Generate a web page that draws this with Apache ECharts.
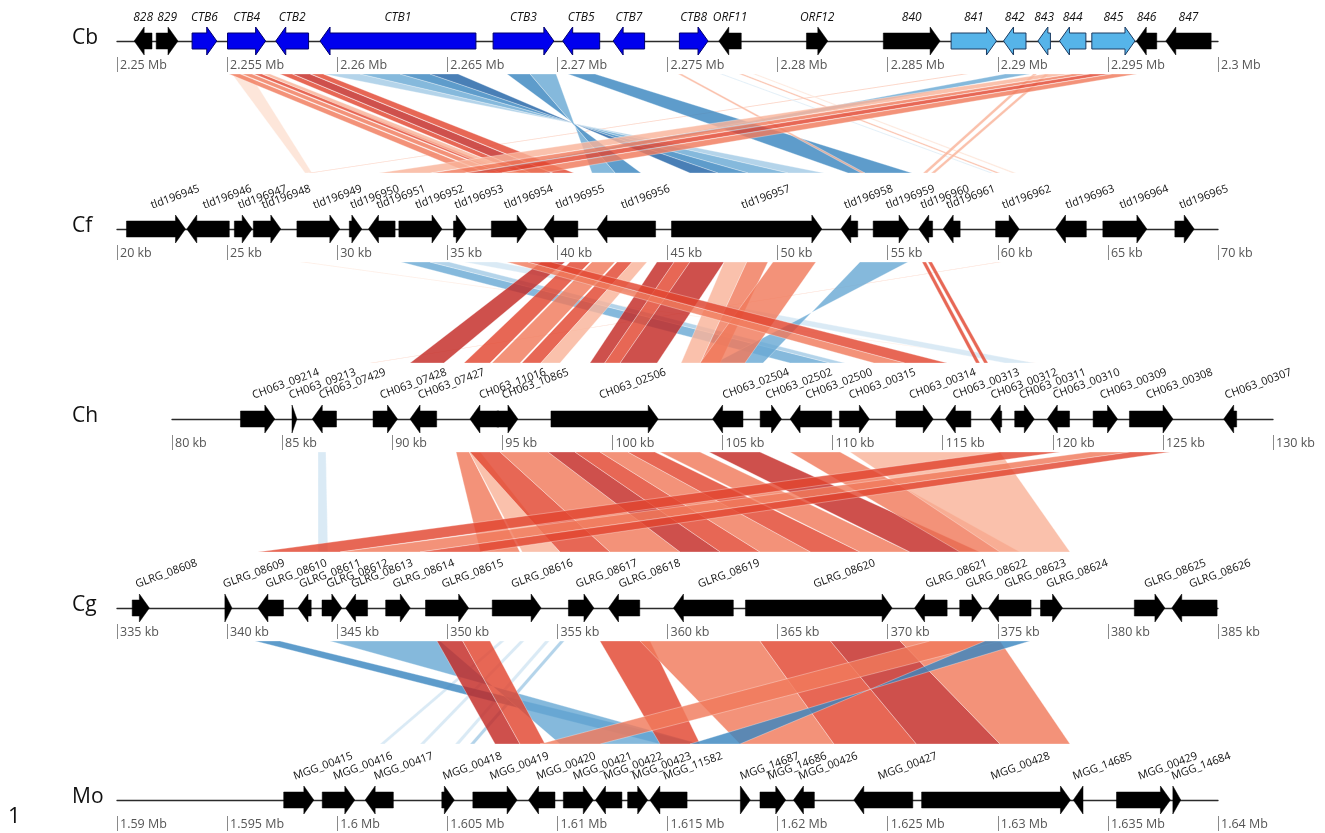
<!DOCTYPE html>
<html><head><meta charset="utf-8">
<script src="https://cdn.jsdelivr.net/npm/echarts@6/dist/echarts.min.js"></script>
<style>html,body{margin:0;padding:0;background:#fff}#c{width:1325px;height:833px}</style>
</head><body><div id="c"></div>
<script>
// ---------------- DATA ----------------
const trackNames = ['Cb', 'Cf', 'Ch', 'Cg', 'Mo'];
const trackMin = [2250, 20, 80, 335, 1590];   // kb
const trackMax = [2300, 70, 130, 385, 1640];  // kb

const cbTicks = ['2.25 Mb','2.255 Mb','2.26 Mb','2.265 Mb','2.27 Mb','2.275 Mb','2.28 Mb','2.285 Mb','2.29 Mb','2.295 Mb','2.3 Mb'];
const cfTicks = ['20 kb','25 kb','30 kb','35 kb','40 kb','45 kb','50 kb','55 kb','60 kb','65 kb','70 kb'];
const chTicks = ['80 kb','85 kb','90 kb','95 kb','100 kb','105 kb','110 kb','115 kb','120 kb','125 kb','130 kb'];
const cgTicks = ['335 kb','340 kb','345 kb','350 kb','355 kb','360 kb','365 kb','370 kb','375 kb','380 kb','385 kb'];
const moTicks = ['1.59 Mb','1.595 Mb','1.6 Mb','1.605 Mb','1.61 Mb','1.615 Mb','1.62 Mb','1.625 Mb','1.63 Mb','1.635 Mb','1.64 Mb'];

// genes: [start kb, end kb, strand, name, colour class]
const cbGenes = [
  [2250.78, 2251.59, -1, '828', 'k'], [2251.78, 2252.77, 1, '829', 'k'],
  [2253.41, 2254.53, 1, 'CTB6', 'b'], [2255.02, 2256.75, 1, 'CTB4', 'b'],
  [2257.21, 2258.70, -1, 'CTB2', 'b'], [2259.22, 2266.30, -1, 'CTB1', 'b'],
  [2267.08, 2269.84, 1, 'CTB3', 'b'], [2270.24, 2271.92, -1, 'CTB5', 'b'],
  [2272.53, 2273.96, -1, 'CTB7', 'b'], [2275.54, 2276.84, 1, 'CTB8', 'b'],
  [2277.33, 2278.35, -1, 'ORF11', 'k'], [2281.31, 2282.28, 1, 'ORF12', 'k'],
  [2284.80, 2287.38, 1, '840', 'k'], [2287.88, 2289.94, 1, '841', 'l'],
  [2290.26, 2291.28, -1, '842', 'l'], [2291.82, 2292.39, -1, '843', 'l'],
  [2292.80, 2294.00, -1, '844', 'l'], [2294.27, 2296.23, 1, '845', 'l'],
  [2296.29, 2297.22, -1, '846', 'k'], [2297.63, 2299.69, -1, '847', 'k']
];
const cfGenes = [
  [20.43, 23.11, 1, 'tld196945'], [23.17, 25.10, -1, 'tld196946'],
  [25.33, 26.14, 1, 'tld196947'], [26.19, 27.44, 1, 'tld196948'],
  [28.17, 30.12, 1, 'tld196949'], [30.55, 31.12, 1, 'tld196950'],
  [31.42, 32.63, -1, 'tld196951'], [32.80, 34.76, 1, 'tld196952'],
  [35.28, 35.86, 1, 'tld196953'], [37.00, 38.63, 1, 'tld196954'],
  [39.38, 40.93, -1, 'tld196955'], [41.80, 44.46, -1, 'tld196956'],
  [45.18, 52.01, 1, 'tld196957'], [52.87, 53.64, -1, 'tld196958'],
  [54.34, 55.97, 1, 'tld196959'], [56.41, 57.04, -1, 'tld196960'],
  [57.52, 58.29, -1, 'tld196961'], [59.90, 60.97, 1, 'tld196962'],
  [62.62, 64.02, -1, 'tld196963'], [64.77, 66.77, 1, 'tld196964'],
  [68.04, 68.92, 1, 'tld196965']
];
const chGenes = [
  [83.11, 84.67, 1, 'CH063_09214'], [85.45, 85.67, 1, 'CH063_09213'],
  [86.37, 87.47, -1, 'CH063_07429'], [89.13, 90.24, 1, 'CH063_07428'],
  [90.81, 92.02, -1, 'CH063_07427'], [93.53, 94.85, -1, 'CH063_11016'],
  [94.75, 95.71, 1, 'CH063_10865'], [97.21, 102.08, 1, 'CH063_02506'],
  [104.55, 105.93, -1, 'CH063_02504'], [106.71, 107.68, 1, 'CH063_02502'],
  [108.07, 109.96, -1, 'CH063_02500'], [110.31, 111.67, 1, 'CH063_00315'],
  [112.88, 114.57, 1, 'CH063_00314'], [115.12, 116.28, -1, 'CH063_00313'],
  [117.16, 117.68, -1, 'CH063_00312'], [118.27, 119.16, 1, 'CH063_00311'],
  [119.75, 120.76, -1, 'CH063_00310'], [121.83, 122.94, 1, 'CH063_00309'],
  [123.48, 125.46, 1, 'CH063_00308'], [127.76, 128.35, -1, 'CH063_00307']
];
const cgGenes = [
  [335.69, 336.47, 1, 'GLRG_08608'], [339.90, 340.22, 1, 'GLRG_08609'],
  [341.40, 342.56, -1, 'GLRG_08610'], [343.22, 343.82, -1, 'GLRG_08611'],
  [344.31, 345.21, 1, 'GLRG_08612'], [345.38, 346.38, -1, 'GLRG_08613'],
  [347.20, 348.32, 1, 'GLRG_08614'], [349.01, 350.97, 1, 'GLRG_08615'],
  [352.04, 354.26, 1, 'GLRG_08616'], [355.50, 356.66, 1, 'GLRG_08617'],
  [357.32, 358.74, -1, 'GLRG_08618'], [360.27, 362.99, -1, 'GLRG_08619'],
  [363.54, 370.20, 1, 'GLRG_08620'], [371.22, 372.70, -1, 'GLRG_08621'],
  [373.27, 374.28, 1, 'GLRG_08622'], [374.58, 376.51, -1, 'GLRG_08623'],
  [376.94, 377.94, 1, 'GLRG_08624'], [381.20, 382.59, 1, 'GLRG_08625'],
  [382.90, 384.96, -1, 'GLRG_08626']
];
const moGenes = [
  [1597.57, 1598.94, 1, 'MGG_00415'], [1599.32, 1600.80, 1, 'MGG_00416'],
  [1601.27, 1602.55, -1, 'MGG_00417'], [1604.75, 1605.32, 1, 'MGG_00418'],
  [1606.16, 1608.17, 1, 'MGG_00419'], [1608.69, 1609.89, -1, 'MGG_00420'],
  [1610.27, 1611.63, 1, 'MGG_00421'], [1611.73, 1612.93, -1, 'MGG_00422'],
  [1613.19, 1614.10, 1, 'MGG_00423'], [1614.20, 1615.89, -1, 'MGG_11582'],
  [1618.31, 1618.76, 1, 'MGG_14687'], [1619.20, 1620.37, 1, 'MGG_14686'],
  [1620.72, 1621.67, -1, 'MGG_00426'], [1623.46, 1626.14, -1, 'MGG_00427'],
  [1626.54, 1633.30, 1, 'MGG_00428'], [1633.43, 1633.87, -1, 'MGG_14685'],
  [1635.39, 1637.84, 1, 'MGG_00429'], [1637.95, 1638.31, 1, 'MGG_14684']
];

// links: [upper start, upper end, lower start, lower end, colour class]
const linksCbCf = [
  [2255.22, 2256.04, 28.54, 28.86, 'r1'], [2288.37, 2288.65, 28.67, 28.86, 'r2'],
  [2255.09, 2255.59, 36.03, 36.76, 'r3'], [2255.68, 2256.13, 36.85, 37.39, 'r3'],
  [2256.22, 2256.58, 37.48, 37.94, 'r4'], [2256.63, 2256.95, 37.62, 38.30, 'r2'],
  [2257.40, 2257.95, 38.26, 38.76, 'r4'], [2257.99, 2258.76, 38.80, 39.75, 'r5'],
  [2258.81, 2259.36, 39.80, 40.75, 'r4'],
  [2259.40, 2261.04, 52.11, 50.47, 'b2'], [2261.04, 2262.85, 50.47, 48.66, 'b3'],
  [2262.85, 2264.21, 48.66, 47.29, 'b4'], [2264.21, 2265.49, 47.29, 46.02, 'b5'],
  [2267.71, 2268.76, 43.80, 42.62, 'b4'], [2268.76, 2269.94, 42.62, 41.57, 'b3'],
  [2270.48, 2271.71, 53.20, 56.10, 'b4'],
  [2275.48, 2275.66, 53.79, 53.97, 'r2'], [2278.25, 2278.43, 59.92, 60.10, 'r2'],
  [2278.88, 2279.02, 60.65, 60.83, 'r1'], [2277.38, 2277.51, 59.65, 59.78, 'b1'],
  [2291.60, 2291.78, 56.60, 56.79, 'r2'], [2292.15, 2292.33, 56.97, 57.15, 'r2'],
  [2290.33, 2291.46, 36.03, 36.48, 'b3'],
  [2292.14, 2293.28, 31.90, 34.21, 'r2'], [2293.37, 2294.10, 34.31, 35.76, 'r3'],
  [2294.19, 2295.10, 35.85, 37.39, 'r4'], [2295.19, 2296.32, 37.48, 39.35, 'r3']
];
const linksCfCh = [
  [28.31, 28.58, 119.05, 119.24, 'r1'], [60.01, 60.15, 88.99, 89.13, 'r2'],
  [35.76, 37.26, 117.83, 119.15, 'b1'],
  [32.90, 34.21, 108.07, 109.88, 'b3'], [34.21, 35.08, 109.88, 110.56, 'b2'],
  [53.74, 55.92, 106.84, 104.66, 'b3'],
  [39.26, 40.35, 90.81, 92.35, 'r5'], [40.57, 41.48, 93.26, 94.44, 'r4'],
  [41.57, 42.62, 94.53, 95.80, 'r3'], [42.71, 43.40, 95.89, 96.75, 'r4'],
  [43.40, 44.07, 96.75, 97.62, 'r2'],
  [44.52, 45.30, 98.98, 99.65, 'r5'], [45.30, 46.02, 99.65, 100.35, 'r4'],
  [46.02, 47.57, 100.35, 102.03, 'r5'],
  [47.57, 48.60, 103.12, 104.00, 'r2'], [48.60, 49.56, 104.00, 104.89, 'r3'],
  [49.79, 51.74, 103.98, 106.02, 'r3'],
  [37.71, 38.66, 111.88, 113.29, 'r3'], [38.66, 39.71, 113.29, 115.20, 'r4'],
  [56.56, 56.74, 116.51, 116.69, 'r4'], [56.83, 57.01, 116.88, 117.06, 'r4']
];
const linksChCg = [
  [86.63, 86.99, 344.13, 344.58, 'b1'],
  [92.90, 93.50, 351.50, 353.30, 'r3'], [93.50, 94.00, 353.40, 355.10, 'r2'],
  [93.53, 94.90, 355.12, 357.39, 'r4'], [94.90, 97.08, 357.39, 360.57, 'r3'],
  [97.08, 98.30, 360.57, 362.40, 'r5'], [98.30, 99.44, 362.40, 364.20, 'r4'],
  [99.44, 100.70, 364.20, 366.50, 'r3'], [100.70, 101.93, 366.50, 368.74, 'r4'],
  [102.16, 103.98, 368.74, 371.01, 'r3'], [104.39, 106.70, 371.01, 374.19, 'r5'],
  [108.07, 110.34, 373.28, 376.01, 'r3'], [110.79, 117.60, 375.10, 378.28, 'r2'],
  [117.60, 120.33, 341.40, 345.13, 'r4'], [121.69, 123.51, 345.13, 348.76, 'r3'],
  [123.51, 125.32, 348.76, 351.49, 'r4']
];
const linksCgMo = [
  [352.39, 352.60, 1601.94, 1602.15, 'b1'], [353.30, 353.50, 1603.76, 1603.96, 'b1'],
  [354.44, 354.64, 1605.35, 1605.55, 'b1'], [355.12, 355.32, 1606.03, 1606.23, 'b2'],
  [341.27, 342.40, 1614.66, 1616.48, 'b4'],
  [344.67, 349.67, 1616.48, 1610.12, 'b3'],
  [349.53, 350.70, 1607.17, 1608.30, 'r5'], [350.70, 351.94, 1608.30, 1609.44, 'r4'],
  [356.93, 359.21, 1614.66, 1616.48, 'r4'],
  [358.75, 364.20, 1618.29, 1622.56, 'r3'],
  [364.20, 367.40, 1622.56, 1626.30, 'r4'], [367.40, 370.56, 1626.30, 1630.10, 'r5'],
  [370.56, 375.10, 1630.10, 1633.28, 'r3'],
  [371.92, 375.10, 1609.21, 1611.93, 'r3'],
  [374.42, 376.46, 1618.29, 1616.02, 'b4']
];

// ---------------- LAYOUT / STYLE ----------------
const genesByTrack = [cbGenes, cfGenes, chGenes, cgGenes, moGenes];
const ticksByTrack = [cbTicks, cfTicks, chTicks, cgTicks, moTicks];
const linksByBand = [linksCbCf, linksCfCh, linksChCg, linksCgMo];
const trackY = [41, 229, 419, 608, 800];
const trackLeft = [117, 117, 172, 117, 117];
const trackW = 1101;
const linkColors = {
  r1: '#fde0d2', r2: '#f9b39a', r3: '#f07a5c', r4: '#e2462f', r5: '#c32a24',
  b1: '#d2e5f3', b2: '#a4cbe5', b3: '#6aaad4', b4: '#3b86c0', b5: '#2163a6'
};
const geneFill = { k: '#000000', b: '#0000ee', l: '#56b4e9' };
const geneStroke = { k: '#000000', b: '#000070', l: '#1c3c63' };
const FONT = '"Open Sans", "Noto Sans", sans-serif';

const chart = echarts.init(document.getElementById('c'), null, { renderer: 'canvas' });

const grids = [], xAxes = [], yAxes = [], series = [];
trackY.forEach((y, k) => {
  grids.push({ left: trackLeft[k], width: trackW, top: y - 30, height: 30 });
  xAxes.push({
    gridIndex: k, type: 'value', min: trackMin[k], max: trackMax[k], position: 'bottom',
    axisLine: { show: true, onZero: false, lineStyle: { color: '#2b2b2b', width: 1.3 } },
    axisTick: { show: false }, axisLabel: { show: false }, splitLine: { show: false }
  });
  xAxes.push({
    gridIndex: k, type: 'value', min: trackMin[k], max: trackMax[k], interval: 5,
    position: 'bottom', offset: 16,
    axisLine: { show: false, onZero: false },
    axisTick: { show: true, length: 15, lineStyle: { color: '#8a8a8a', width: 1 } },
    axisLabel: {
      show: true, showMinLabel: true, showMaxLabel: true, hideOverlap: false,
      align: 'left', verticalAlign: 'middle', margin: 8, padding: [0, 0, 0, 3],
      color: '#555', fontSize: 12.5, fontFamily: FONT,
      formatter: (v) => ticksByTrack[k][Math.round((v - trackMin[k]) / 5)]
    },
    splitLine: { show: false }
  });
  yAxes.push({ gridIndex: k, type: 'value', min: 0, max: 1, show: false });
});

function px(axisIdx, v) {
  return chart.convertToPixel({ xAxisIndex: axisIdx }, v);
}

// link bands
linksByBand.forEach((links, b) => {
  series.push({
    type: 'custom', coordinateSystem: 'none', silent: true, z: 1,
    data: links.map((l, i) => [i]),
    renderItem: (params) => {
      const L = links[params.dataIndex];
      const ua = 2 * b, la = 2 * (b + 1);
      const yt = trackY[b] + 33, yb = trackY[b + 1] - 56;
      const pts = [
        [px(ua, L[0]), yt], [px(ua, L[1]), yt],
        [px(la, L[3]), yb], [px(la, L[2]), yb]
      ];
      return {
        type: 'polygon', shape: { points: pts },
        style: { fill: linkColors[L[4]], opacity: 0.82, stroke: 'rgba(255,255,255,0.55)', lineWidth: 0.7 }
      };
    }
  });
});

// genes
genesByTrack.forEach((genes, k) => {
  series.push({
    type: 'custom', xAxisIndex: 2 * k, yAxisIndex: k, silent: true, z: 5, clip: false,
    data: genes.map(g => [g[0], g[1], 0]),
    encode: { x: [0, 1], y: 2 },
    renderItem: (params, api) => {
      const g = genes[params.dataIndex];
      const p1 = api.coord([g[0], 0]), p2 = api.coord([g[1], 0]);
      const y = p1[1], x1 = p1[0], x2 = p2[0];
      const hl = Math.min(10, x2 - x1), bh = 8, hh = 14;
      let pts;
      if (g[2] > 0) {
        pts = [[x1, y - bh], [x2 - hl, y - bh], [x2 - hl, y - hh], [x2, y], [x2 - hl, y + hh], [x2 - hl, y + bh], [x1, y + bh]];
      } else {
        pts = [[x2, y - bh], [x1 + hl, y - bh], [x1 + hl, y - hh], [x1, y], [x1 + hl, y + hh], [x1 + hl, y + bh], [x2, y + bh]];
      }
      const ck = g[4] || 'k';
      const cx = (x1 + x2) / 2;
      const label = k === 0
        ? { type: 'text', x: cx, y: y - 23,
            style: { text: g[3], fill: '#111', fontSize: 12, fontStyle: 'italic', fontFamily: FONT, align: 'center', verticalAlign: 'middle' } }
        : { type: 'text', x: cx - 3, y: y - 18, rotation: 20 * Math.PI / 180,
            style: { text: g[3], fill: '#111', fontSize: 11, fontFamily: FONT, align: 'left', verticalAlign: 'bottom' } };
      return {
        type: 'group',
        children: [
          { type: 'polygon', shape: { points: pts }, style: { fill: geneFill[ck], stroke: geneStroke[ck], lineWidth: ck === 'k' ? 0.5 : 1 } },
          label
        ]
      };
    }
  });
});

const graphics = trackNames.map((n, k) => ({
  type: 'text', left: 72, top: trackY[k] - 13,
  style: { text: n, fontSize: 21, fontFamily: FONT, fill: '#111' }
}));
graphics.push({ type: 'text', left: 8, top: 806, style: { text: '1', fontSize: 22, fontFamily: FONT, fill: '#111' } });

chart.setOption({
  animation: false,
  backgroundColor: '#ffffff',
  grid: grids, xAxis: xAxes, yAxis: yAxes,
  graphic: graphics,
  series: series
});
</script>
</body></html>
